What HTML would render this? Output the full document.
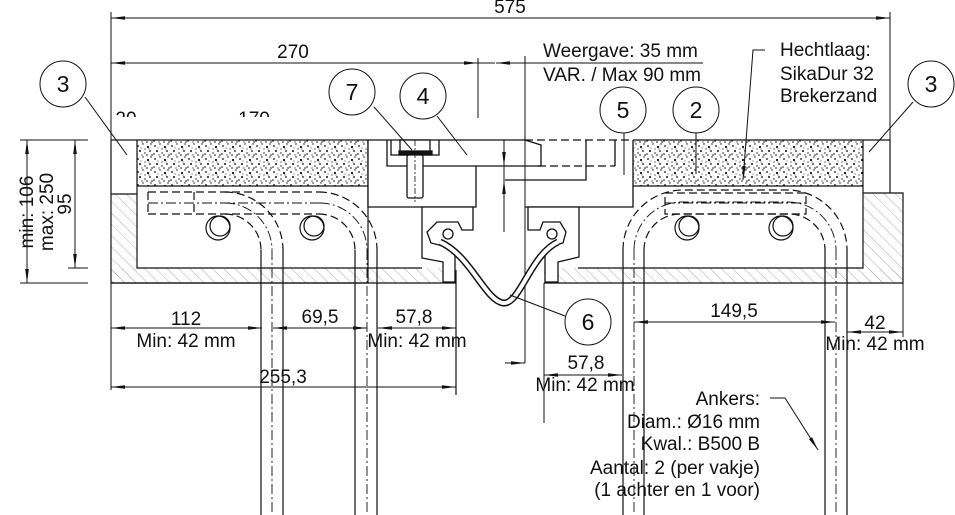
<!DOCTYPE html>
<html><head><meta charset="utf-8"><style>
html,body{margin:0;padding:0;background:#fff;}
svg{display:block;}
text{font-family:"Liberation Sans",Arial,sans-serif;fill:#111;}
</style></head><body>
<svg width="955" height="515" viewBox="0 0 955 515" xmlns="http://www.w3.org/2000/svg">
<defs>
<pattern id="h" width="8" height="8" patternUnits="userSpaceOnUse" patternTransform="rotate(-45)">
<line x1="0" y1="0" x2="0" y2="8" stroke="#aaa" stroke-width="1"/></pattern>
<pattern id="s" width="17" height="13" patternUnits="userSpaceOnUse">
<rect width="17" height="13" fill="#fff"/>
<g fill="#111">
<circle cx="2" cy="3" r="0.9"/><circle cx="7" cy="1" r="0.7"/><circle cx="12" cy="4" r="1.1"/><circle cx="15" cy="1" r="0.7"/>
<circle cx="4" cy="8" r="1"/><circle cx="9" cy="10" r="0.7"/><circle cx="14" cy="8" r="0.9"/><circle cx="16" cy="12" r="0.8"/>
<circle cx="1" cy="11" r="0.8"/><circle cx="6" cy="12" r="0.6"/><circle cx="11" cy="12" r="0.8"/><circle cx="9" cy="6" r="0.6"/>
<circle cx="5" cy="5" r="0.5"/><circle cx="13" cy="6" r="0.5"/>
</g></pattern>
<marker id="a" markerWidth="14" markerHeight="6" refX="14" refY="3" orient="auto" markerUnits="userSpaceOnUse">
<path d="M0,1.2 L14,3 L0,4.8Z" fill="#111"/></marker>
<marker id="b" markerWidth="14" markerHeight="6" refX="0" refY="3" orient="auto" markerUnits="userSpaceOnUse">
<path d="M14,1.2 L0,3 L14,4.8Z" fill="#111"/></marker>
<clipPath id="cp"><rect x="100" y="100" width="200" height="17"/></clipPath>
</defs>

<g stroke="#111" stroke-width="1" fill="none">
<line x1="111" y1="12" x2="111" y2="390"/>
<line x1="890" y1="12" x2="890" y2="140"/>
<line x1="111" y1="18" x2="890" y2="18" marker-start="url(#b)" marker-end="url(#a)"/>
<line x1="111" y1="63" x2="478" y2="63" marker-start="url(#b)" marker-end="url(#a)"/>
<line x1="478" y1="58" x2="478" y2="118"/>
<line x1="495" y1="63" x2="478" y2="63"/>
<line x1="496" y1="63" x2="524" y2="63" marker-start="url(#b)"/>
<line x1="524" y1="63" x2="703" y2="63"/>
<line x1="525" y1="56" x2="525" y2="363"/>
<line x1="20" y1="140" x2="88" y2="140"/>
<line x1="20" y1="283" x2="88" y2="283"/>
<line x1="68" y1="268" x2="88" y2="268"/>
<line x1="27" y1="140" x2="27" y2="283" marker-start="url(#b)" marker-end="url(#a)"/>
<line x1="75" y1="140" x2="75" y2="268" marker-start="url(#b)" marker-end="url(#a)"/>
</g>

<rect x="111" y="194" width="26" height="89" fill="url(#h)"/>
<rect x="111" y="268" width="345" height="15" fill="url(#h)"/>
<rect x="137" y="140" width="231" height="46" fill="url(#s)"/>
<g stroke="#111" stroke-width="1.2" fill="none">
<rect x="111" y="140" width="257" height="143"/>
<line x1="111" y1="194" x2="137" y2="194"/>
<polyline points="137,140 137,268 422,268"/>
<line x1="137" y1="186" x2="368" y2="186"/>
<line x1="111" y1="283" x2="456" y2="283"/>
<line x1="456" y1="270" x2="456" y2="395"/>
</g>

<rect x="863" y="193" width="40" height="90" fill="url(#h)"/>
<rect x="544" y="268" width="359" height="15" fill="url(#h)"/>
<rect x="633" y="140" width="230" height="46" fill="url(#s)"/>
<g stroke="#111" stroke-width="1.2" fill="none">
<polyline points="633,140 890,140 890,193"/>
<line x1="633" y1="186" x2="863" y2="186"/>
<polyline points="863,140 863,268 578,268"/>
<polyline points="863,193 903,193 903,283 544,283"/>
<line x1="903" y1="283" x2="903" y2="337" stroke-width="1"/>
<line x1="544" y1="283" x2="544" y2="423" stroke-width="1"/>
</g>

<g stroke="#111" stroke-width="1.3" fill="#fff">
<polyline points="368,140 368,207 476,207 476,166" />
<polyline points="387,140 387,166 541,166 541,145 525,140" fill="none"/>
<line x1="368" y1="140" x2="525" y2="140"/>
<polyline points="391,140 391,155 439,155 439,140" fill="none"/>
<rect x="400" y="140" width="30" height="13"/>
<rect x="399" y="151" width="33" height="4" fill="#111"/>
<rect x="407" y="155" width="16" height="43" rx="2"/>
<line x1="415" y1="140" x2="415" y2="202" stroke-dasharray="6 2 2 2" stroke-width="0.8"/>
<path d="M422,207 L473,207 L473,230 L462,230 L458,222 L437,222 L427,232 L431,243 L447,247 L455,250 L455,282 L443,282 L443,262 L422,258 Z"/>
<circle cx="448" cy="234" r="5"/>
</g>

<g stroke="#111" stroke-width="1.3" fill="none">
<polyline points="525,207 633,207 633,140"/>
<line x1="525" y1="140" x2="633" y2="140" stroke-dasharray="8 4"/>
<line x1="538" y1="166" x2="615" y2="166" stroke-dasharray="8 4"/>
<line x1="615" y1="140" x2="615" y2="166"/>
<polyline points="505,180 586,180 586,140"/>
<path d="M528,207 L579,207 L579,257 L558,262 L558,282 L545,282 L545,250 L552,246 L563,243 L566,232 L560,222 L543,222 L540,230 L528,230 Z" fill="#fff"/>
<circle cx="552" cy="234" r="5"/>
</g>
<path d="M440,242 C470,255 485,300 503,303 C520,305 530,255 558,242" stroke="#111" stroke-width="7" fill="none"/>
<path d="M440,242 C470,255 485,300 503,303 C520,305 530,255 558,242" stroke="#fff" stroke-width="4" fill="none"/>
<line x1="504" y1="140" x2="504" y2="166" stroke="#111" marker-end="url(#a)"/>
<line x1="504" y1="232" x2="504" y2="180" stroke="#111" marker-end="url(#a)"/>
<line x1="504" y1="166" x2="504" y2="180" stroke="#111"/>
<line x1="505" y1="363" x2="525" y2="363" stroke="#111" marker-end="url(#a)"/>

<g stroke="#111" stroke-width="1.2" fill="none">
<g stroke-dasharray="8 4">
<line x1="148" y1="192" x2="319" y2="192"/>
<line x1="148" y1="214" x2="319" y2="214"/>
<line x1="148" y1="192" x2="148" y2="214"/>
<line x1="194" y1="192" x2="194" y2="214"/>
<path d="M225,192 A58,58 0 0 1 283,250"/>
<path d="M225,214 A36,36 0 0 1 261,250"/>
<path d="M319,192 A58,58 0 0 1 377,250"/>
<path d="M319,214 A36,36 0 0 1 355,250"/>
</g>
<g stroke-dasharray="10 3 2 3" stroke-width="0.9">
<line x1="148" y1="203" x2="320" y2="203"/>
<path d="M225,203 A47,47 0 0 1 272,250"/>
<path d="M320,203 A47,47 0 0 1 367,250"/>
<line x1="272" y1="250" x2="272" y2="515"/>
<line x1="367" y1="250" x2="367" y2="515"/>
</g>
<line x1="261" y1="250" x2="261" y2="515"/>
<line x1="283" y1="250" x2="283" y2="515"/>
<line x1="355" y1="250" x2="355" y2="515"/>
<line x1="377" y1="250" x2="377" y2="515"/>
<circle cx="218" cy="228" r="12"/><circle cx="220" cy="226" r="10"/>
<circle cx="312" cy="228" r="12"/><circle cx="314" cy="226" r="10"/>
</g>

<g stroke="#111" stroke-width="1.2" fill="none">
<g stroke-dasharray="8 4">
<rect x="665" y="193" width="141" height="21"/>
<path d="M623,250 A60,60 0 0 1 683,190 L787,190 A60,60 0 0 1 847,250"/>
<path d="M644,250 A36,36 0 0 1 680,214 L789,214 A36,36 0 0 1 825,250"/>
</g>
<g stroke-dasharray="10 3 2 3" stroke-width="0.9">
<line x1="665" y1="203" x2="806" y2="203"/>
<path d="M634,250 A48,48 0 0 1 682,202 L788,202 A48,48 0 0 1 836,250"/>
<line x1="634" y1="250" x2="634" y2="515"/>
<line x1="836" y1="250" x2="836" y2="515"/>
</g>
<line x1="623" y1="250" x2="623" y2="515"/>
<line x1="644" y1="250" x2="644" y2="515"/>
<line x1="825" y1="250" x2="825" y2="515"/>
<line x1="847" y1="250" x2="847" y2="515"/>
<circle cx="687" cy="228" r="12"/><circle cx="689" cy="226" r="10"/>
<circle cx="781" cy="228" r="12"/><circle cx="783" cy="226" r="10"/>
</g>

<g stroke="#111" stroke-width="1" fill="none">
<line x1="111" y1="328" x2="262" y2="328" marker-start="url(#b)" marker-end="url(#a)"/>
<line x1="273" y1="328" x2="367" y2="328" marker-start="url(#b)" marker-end="url(#a)"/>
<line x1="378" y1="328" x2="456" y2="328" marker-start="url(#b)" marker-end="url(#a)"/>
<line x1="111" y1="387" x2="456" y2="387" marker-start="url(#b)" marker-end="url(#a)"/>
<line x1="544" y1="375" x2="622" y2="375" marker-start="url(#b)" marker-end="url(#a)"/>
<line x1="634" y1="322" x2="835" y2="322" marker-start="url(#b)" marker-end="url(#a)"/>
<line x1="847" y1="332" x2="903" y2="332" marker-start="url(#b)" marker-end="url(#a)"/>
<line x1="85" y1="97" x2="127" y2="155"/>
<line x1="374" y1="107" x2="412" y2="150"/>
<line x1="437" y1="116" x2="467" y2="155"/>
<line x1="624" y1="133" x2="624" y2="175"/>
<line x1="696" y1="133" x2="696" y2="174"/>
<line x1="913" y1="102" x2="869" y2="152"/>
<line x1="565" y1="316" x2="510" y2="295"/>
<polyline points="765,50 753,50 743,180" marker-end="url(#a)"/>
<polyline points="770,398 785,398 818,450" marker-end="url(#a)"/>
<circle cx="63" cy="84" r="23"/>
<circle cx="352" cy="92" r="23"/>
<circle cx="423" cy="96" r="23"/>
<circle cx="623" cy="110" r="23"/>
<circle cx="696" cy="110" r="23"/>
<circle cx="931" cy="84" r="23"/>
<circle cx="588" cy="322" r="23"/>
</g>

<g font-size="23" text-anchor="middle">
<text x="63" y="92">3</text><text x="352" y="100">7</text><text x="423" y="104">4</text>
<text x="623" y="118">5</text><text x="696" y="118">2</text><text x="931" y="92">3</text>
<text x="588" y="330">6</text>
</g>
<g font-size="19">
<text x="510" y="13" text-anchor="middle">575</text>
<text x="293" y="58" text-anchor="middle">270</text>
<g clip-path="url(#cp)"><text x="126" y="125" text-anchor="middle">20</text><text x="254" y="125" text-anchor="middle">170</text></g>
<text x="543" y="57">Weergave: 35 mm</text>
<text x="543" y="81">VAR. / Max 90 mm</text>
<text x="780" y="56">Hechtlaag:</text>
<text x="780" y="80">SikaDur 32</text>
<text x="780" y="102">Brekerzand</text>
<text transform="translate(33,212) rotate(-90)" text-anchor="middle">min: 106</text>
<text transform="translate(53,212) rotate(-90)" text-anchor="middle">max: 250</text>
<text transform="translate(71,204) rotate(-90)" text-anchor="middle">95</text>
<text x="186" y="325" text-anchor="middle">112</text>
<text x="186" y="347" text-anchor="middle">Min: 42 mm</text>
<text x="320" y="323" text-anchor="middle">69,5</text>
<text x="414" y="323" text-anchor="middle">57,8</text>
<text x="417" y="347" text-anchor="middle">Min: 42 mm</text>
<text x="283" y="383" text-anchor="middle">255,3</text>
<text x="586" y="369" text-anchor="middle">57,8</text>
<text x="585" y="391" text-anchor="middle">Min: 42 mm</text>
<text x="734" y="317" text-anchor="middle">149,5</text>
<text x="875" y="329" text-anchor="middle">42</text>
<text x="875" y="350" text-anchor="middle">Min: 42 mm</text>
<g text-anchor="end">
<text x="760" y="405">Ankers:</text>
<text x="760" y="428">Diam.: Ø16 mm</text>
<text x="760" y="450">Kwal.: B500 B</text>
<text x="760" y="474">Aantal: 2 (per vakje)</text>
<text x="760" y="496">(1 achter en 1 voor)</text>
</g>
</g>
</svg>
</body></html>
